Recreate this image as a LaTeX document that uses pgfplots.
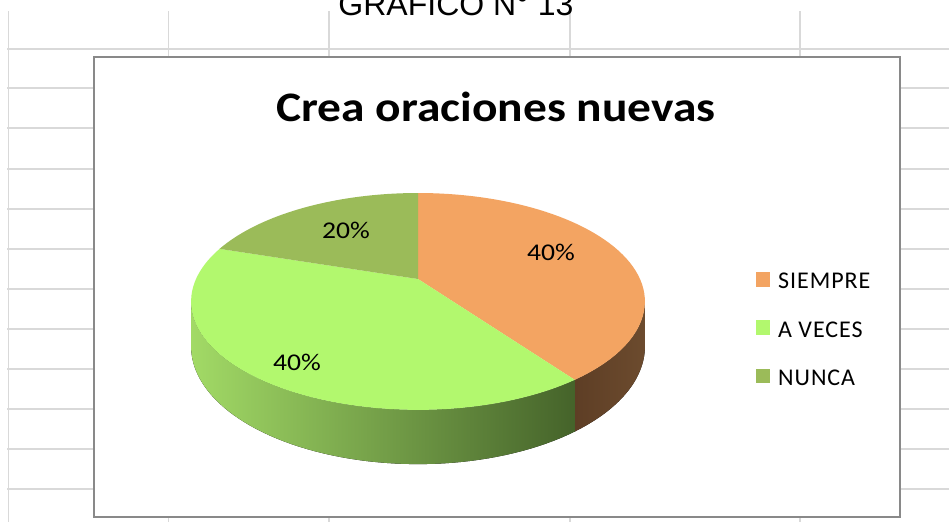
\documentclass[border=0pt]{standalone}
\usepackage{pgfplots}
\pgfplotsset{compat=1.18}
\usepackage{pgfplotstable}
\usepackage{fontspec}
\setmainfont{Carlito}
\newfontfamily\carlito{Carlito}
\newfontfamily\arial{Liberation Sans}

\definecolor{gridc}{HTML}{D9D9D9}
\definecolor{boxc}{HTML}{898989}
\definecolor{siempre}{HTML}{F3A462}
\definecolor{aveces}{HTML}{B2F86E}
\definecolor{nunca}{HTML}{9BBB59}
\definecolor{sideSl}{HTML}{5E3E25}
\definecolor{sideSr}{HTML}{6C4B2E}
\definecolor{sideAl}{HTML}{A2DA66}
\definecolor{sideAr}{HTML}{45632A}

\pgfplotstableread{
label value
SIEMPRE 40
AVECES 40
NUNCA 20
}\piedata
\pgfplotstablegetelem{0}{value}\of\piedata \let\vS\pgfplotsretval
\pgfplotstablegetelem{1}{value}\of\piedata \let\vA\pgfplotsretval
\pgfplotstablegetelem{2}{value}\of\piedata \let\vN\pgfplotsretval
\pgfmathsetmacro\tot{\vS+\vA+\vN}
\pgfmathsetmacro\aS{360*\vS/\tot}
\pgfmathsetmacro\aA{\aS+360*\vA/\tot}
% visible side of the cylinder (perspective)
\pgfmathsetmacro\sL{acos(-0.207)}
\pgfmathsetmacro\sR{360-\sL}
\pgfmathsetmacro\eA{min(\aA,\sR)}
% perspective projection of the pie
\def\PX#1{418+222*sin(#1)/(1+0.207*cos(#1))}
\def\PY#1{279-103.8*cos(#1)/(1+0.207*cos(#1))}
\def\PB#1{279+(43-103.8*cos(#1))/(1+0.207*cos(#1))}

\begin{document}
\begin{tikzpicture}
\begin{axis}[at={(0,0)},anchor=south west,scale only axis,width=949pt,height=522pt,
  xmin=0,xmax=949,ymin=0,ymax=522,y dir=reverse,hide axis,clip=false]
  \fill[white] (axis cs:0,0) rectangle (axis cs:949,522);
  % spreadsheet grid
  \pgfplotsinvokeforeach{49,88,128,169,209,249,289,329,369,409,449,489}{
    \draw[gridc,line width=1.6pt] (axis cs:7,#1) -- (axis cs:949,#1);}
  \pgfplotsinvokeforeach{8.5,168.5,329,570,800}{
    \draw[gridc,line width=1.6pt] (axis cs:#1,11) -- (axis cs:#1,522);}
  \node[font=\arial\fontsize{32}{32}\selectfont,anchor=base,inner sep=0pt] at (axis cs:456,15) {GRÁFICO N° 13};
  % chart area
  \filldraw[fill=white,draw=boxc,line width=1.4pt] (axis cs:94,57) rectangle (axis cs:900,517);
  \node[font=\carlito\bfseries\fontsize{42}{42}\selectfont,anchor=base,inner sep=0pt,xscale=1.13] at (axis cs:496,121) {Crea oraciones nuevas};
  % sides
  \fill[left color=sideSl,right color=sideSr]
    plot[domain=\sL:\aS,variable=\t,samples=30] ({\PX{\t}},{\PY{\t}})
    -- plot[domain=\aS:\sL,variable=\t,samples=30] ({\PX{\t}},{\PB{\t}}) -- cycle;
  \fill[left color=sideAl,right color=sideAr]
    plot[domain=\aS:\eA,variable=\t,samples=60] ({\PX{\t}},{\PY{\t}})
    -- plot[domain=\eA:\aS,variable=\t,samples=60] ({\PX{\t}},{\PB{\t}}) -- cycle;
  % top faces
  \fill[siempre] (axis cs:418,279) -- plot[domain=0:\aS,variable=\t,samples=60] ({\PX{\t}},{\PY{\t}}) -- cycle;
  \fill[aveces] (axis cs:418,279) -- plot[domain=\aS:\aA,variable=\t,samples=60] ({\PX{\t}},{\PY{\t}}) -- cycle;
  \fill[nunca] (axis cs:418,279) -- plot[domain=\aA:360,variable=\t,samples=40] ({\PX{\t}},{\PY{\t}}) -- cycle;
  % data labels
  \node[font=\carlito\fontsize{24}{24}\selectfont,anchor=base,inner sep=0pt,xscale=1.15] at (axis cs:551,260) {\vS\%};
  \node[font=\carlito\fontsize{24}{24}\selectfont,anchor=base,inner sep=0pt,xscale=1.15] at (axis cs:297,370) {\vA\%};
  \node[font=\carlito\fontsize{24}{24}\selectfont,anchor=base,inner sep=0pt,xscale=1.15] at (axis cs:346,238) {\vN\%};
  % legend
  \fill[siempre] (axis cs:756,272) rectangle (axis cs:770,287);
  \fill[aveces] (axis cs:756,320) rectangle (axis cs:770,335);
  \fill[nunca] (axis cs:756,369) rectangle (axis cs:770,383);
  \node[font=\carlito\fontsize{24}{24}\selectfont\addfontfeature{LetterSpace=4},anchor=base west,inner sep=0pt] at (axis cs:778,288) {SIEMPRE};
  \node[font=\carlito\fontsize{24}{24}\selectfont\addfontfeature{LetterSpace=4},anchor=base west,inner sep=0pt] at (axis cs:778,337) {A VECES};
  \node[font=\carlito\fontsize{24}{24}\selectfont\addfontfeature{LetterSpace=4},anchor=base west,inner sep=0pt] at (axis cs:778,385) {NUNCA};
\end{axis}
\pgfresetboundingbox
\useasboundingbox (0,0) rectangle (949pt,522pt);
\end{tikzpicture}
\end{document}
